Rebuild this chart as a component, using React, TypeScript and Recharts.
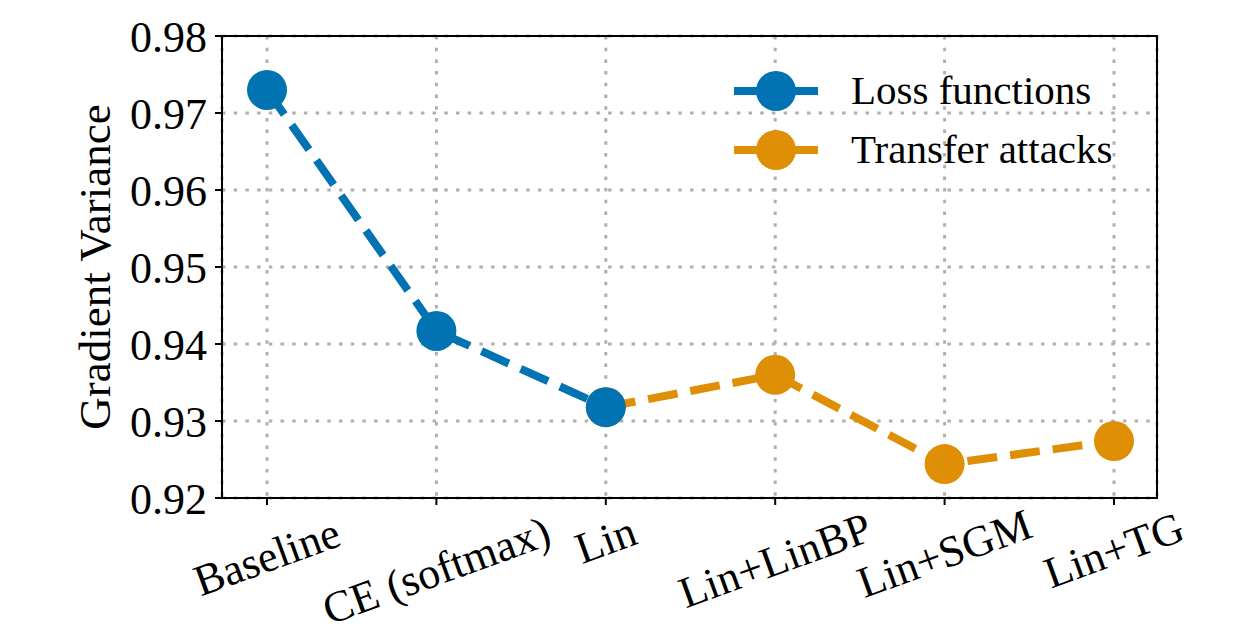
import React from "react";
import { LineChart, Line, XAxis, YAxis, CartesianGrid, usePlotArea } from "recharts";

const categories = ["Baseline", "CE (softmax)", "Lin", "Lin+LinBP", "Lin+SGM", "Lin+TG"];
const lossValues = [0.973, 0.9417, 0.9318, null, null, null];
const transferValues = [null, null, 0.9318, 0.936, 0.9244, 0.9274];
const yTicks = [0.92, 0.93, 0.94, 0.95, 0.96, 0.97, 0.98];
const seriesNames = ["Loss functions", "Transfer attacks"];

const BLUE = "#0173B2";
const ORANGE = "#DE8F05";
const FONT = "'Liberation Serif', 'Times New Roman', serif";

const data = categories.map((name, i) => ({
  name,
  loss: lossValues[i],
  transfer: transferValues[i],
}));

function XTick({ x, y, payload }: any) {
  const label = String(payload.value);
  const w = label.length * 0.45 * 44;
  const cy = y + 23 + 0.171 * w;
  return (
    <text
      x={x}
      y={cy}
      textAnchor="middle"
      dominantBaseline="central"
      transform={`rotate(-20, ${x}, ${cy})`}
      fontFamily={FONT}
      fontSize={44}
      fill="#000"
    >
      {label}
    </text>
  );
}

function YLabel({ viewBox }: any) {
  const cx = viewBox.x + 95;
  const cy = viewBox.y + viewBox.height / 2;
  return (
    <text
      x={cx}
      y={cy}
      textAnchor="middle"
      dominantBaseline="central"
      transform={`rotate(-90, ${cx}, ${cy})`}
      fontFamily={FONT}
      fontSize={45}
      fill="#000"
    >
      Gradient Variance
    </text>
  );
}

// top/right spines (matplotlib style box)
function Frame() {
  const area = usePlotArea();
  if (!area) return null;
  return (
    <rect x={area.x} y={area.y} width={area.width} height={area.height} fill="none" stroke="#000" strokeWidth={2} />
  );
}

function LegendRow({ color, text }: { color: string; text: string }) {
  return (
    <div style={{ display: "flex", alignItems: "center", height: 59 }}>
      <svg width={84} height={44}>
        <line x1={0} y1={22} x2={84} y2={22} stroke={color} strokeWidth={8} />
        <circle cx={42} cy={22} r={20} fill={color} />
      </svg>
      <span style={{ marginLeft: 33, fontFamily: FONT, fontSize: 41, color: "#000", lineHeight: 1 }}>
        {text}
      </span>
    </div>
  );
}

export default function App() {
  return (
    <div style={{ position: "relative", width: 1237, height: 626 }}>
      <style>{"body{margin:0}"}</style>
      <LineChart width={1237} height={626} data={data} margin={{ top: 36, right: 80, bottom: 0, left: 0 }}>
        <CartesianGrid stroke="#b0b0b0" strokeWidth={3} strokeDasharray="3.5 8.2" />
        <XAxis
          dataKey="name"
          scale="point"
          padding={{ left: 45, right: 43 }}
          interval={0}
          tick={<XTick />}
          tickSize={7}
          tickLine={{ stroke: "#000", strokeWidth: 2 }}
          axisLine={{ stroke: "#000", strokeWidth: 2 }}
          height={128}
        />
        <YAxis
          domain={[0.92, 0.98]}
          ticks={yTicks}
          interval={0}
          tickFormatter={(v: number) => v.toFixed(2)}
          width={222}
          tickSize={7}
          tickMargin={8}
          tick={{ fontFamily: FONT, fontSize: 44, fill: "#000" }}
          tickLine={{ stroke: "#000", strokeWidth: 2 }}
          axisLine={{ stroke: "#000", strokeWidth: 2 }}
          label={<YLabel />}
        />
        <Line
          dataKey="transfer"
          name={seriesNames[1]}
          stroke={ORANGE}
          strokeWidth={8}
          strokeDasharray="30 13"
          dot={{ r: 20, fill: ORANGE, stroke: "none", strokeDasharray: "" }}
          activeDot={false}
          isAnimationActive={false}
        />
        <Line
          dataKey="loss"
          name={seriesNames[0]}
          stroke={BLUE}
          strokeWidth={8}
          strokeDasharray="30 13"
          dot={{ r: 20, fill: BLUE, stroke: "none", strokeDasharray: "" }}
          activeDot={false}
          isAnimationActive={false}
        />
        <Frame />
      </LineChart>
      <div style={{ position: "absolute", left: 734, top: 61 }}>
        <LegendRow color={BLUE} text={seriesNames[0]} />
        <LegendRow color={ORANGE} text={seriesNames[1]} />
      </div>
    </div>
  );
}
